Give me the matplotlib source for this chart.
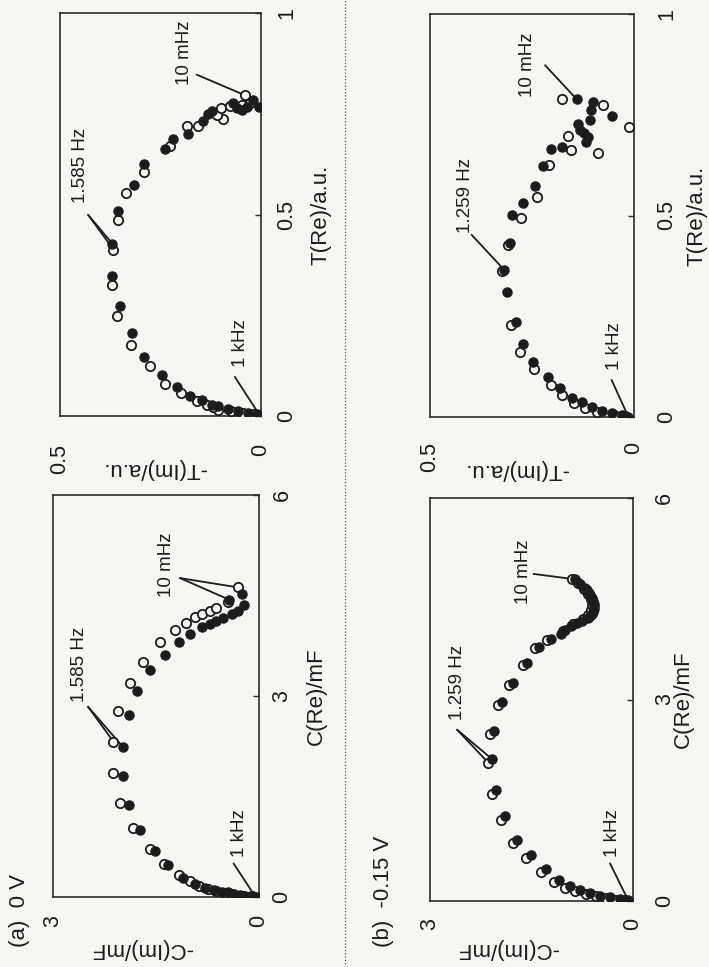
import matplotlib
matplotlib.use("Agg")
import matplotlib.pyplot as plt
from matplotlib.lines import Line2D

plt.rcParams["font.family"] = ["Liberation Sans", "DejaVu Sans"]

# ---------------------------------------------------------------- data
# (a) 0 V, capacitance plane: real part / -imaginary part (mF)
a_c_re_closed = [0.00, 0.01, 0.02, 0.03, 0.05, 0.07, 0.08, 0.10, 0.14, 0.19, 0.29, 0.48, 0.69,
                 1.00, 1.38, 1.81, 2.24, 2.71, 3.08, 3.39, 3.61, 3.80, 3.93, 4.03, 4.07, 4.12,
                 4.17, 4.22, 4.27, 4.36, 4.52, 4.44]
a_c_im_closed = [0.05, 0.12, 0.20, 0.28, 0.36, 0.45, 0.54, 0.66, 0.79, 0.93, 1.10, 1.32, 1.51,
                 1.74, 1.90, 1.98, 1.98, 1.90, 1.77, 1.59, 1.37, 1.17, 1.00, 0.83, 0.72, 0.62,
                 0.52, 0.40, 0.30, 0.22, 0.25, 0.44]
a_c_re_open = [0.01, 0.02, 0.04, 0.06, 0.09, 0.12, 0.17, 0.24, 0.33, 0.50, 0.72, 1.03, 1.40,
               1.85, 2.32, 2.78, 3.20, 3.51, 3.80, 3.99, 4.09, 4.18, 4.23, 4.27, 4.32, 4.41, 4.62]
a_c_im_open = [0.10, 0.24, 0.40, 0.50, 0.62, 0.75, 0.88, 1.00, 1.17, 1.38, 1.59, 1.83, 2.02,
               2.12, 2.12, 2.05, 1.88, 1.69, 1.44, 1.22, 1.06, 0.93, 0.83, 0.72, 0.62, 0.45, 0.30]

# (a) 0 V, normalised transfer function plane (a.u.)
a_t_re_closed = [0.003, 0.005, 0.007, 0.012, 0.017, 0.024, 0.028, 0.039, 0.050, 0.072, 0.102,
                 0.146, 0.206, 0.272, 0.347, 0.428, 0.508, 0.572, 0.625, 0.663, 0.688, 0.700,
                 0.733, 0.749, 0.758, 0.764, 0.760, 0.766, 0.785, 0.766, 0.777]
a_t_im_closed = [0.004, 0.011, 0.032, 0.056, 0.081, 0.106, 0.123, 0.148, 0.177, 0.210, 0.247,
                 0.290, 0.322, 0.351, 0.370, 0.370, 0.355, 0.315, 0.290, 0.239, 0.218, 0.182,
                 0.144, 0.131, 0.123, 0.060, 0.048, 0.036, 0.019, 0.005, 0.069]
a_t_re_open = [0.004, 0.008, 0.012, 0.016, 0.022, 0.028, 0.036, 0.057, 0.080, 0.125, 0.177,
               0.247, 0.326, 0.413, 0.486, 0.553, 0.605, 0.669, 0.719, 0.719, 0.738, 0.746,
               0.764, 0.768, 0.772, 0.777, 0.796]
a_t_im_open = [0.020, 0.045, 0.075, 0.106, 0.120, 0.135, 0.160, 0.199, 0.239, 0.276, 0.323,
               0.359, 0.370, 0.367, 0.355, 0.337, 0.290, 0.226, 0.185, 0.157, 0.094, 0.110,
               0.100, 0.077, 0.048, 0.027, 0.040]

# (b) -0.15 V, capacitance plane (mF)
b_c_re_closed = [0.01, 0.03, 0.06, 0.08, 0.12, 0.17, 0.22, 0.32, 0.47, 0.69, 0.91, 1.26, 1.66,
                 2.11, 2.53, 2.96, 3.24, 3.55, 3.78, 3.90, 3.97, 4.04, 4.09, 4.14, 4.17, 4.21,
                 4.24, 4.27, 4.31, 4.35, 4.39, 4.42, 4.47, 4.51, 4.55, 4.59, 4.63, 4.66, 4.72, 4.79]
b_c_im_closed = [0.07, 0.19, 0.34, 0.49, 0.63, 0.78, 0.93, 1.10, 1.29, 1.51, 1.71, 1.89, 2.03,
                 2.08, 2.05, 1.93, 1.77, 1.56, 1.39, 1.21, 1.07, 1.00, 0.91, 0.83, 0.75, 0.67,
                 0.64, 0.61, 0.59, 0.58, 0.57, 0.58, 0.59, 0.61, 0.63, 0.65, 0.68, 0.71, 0.78, 0.86]
b_c_re_open = [0.01, 0.02, 0.04, 0.07, 0.10, 0.15, 0.20, 0.29, 0.43, 0.64, 0.86, 1.20, 1.60,
               2.06, 2.48, 2.92, 3.21, 3.52, 3.76, 3.88, 4.02, 4.12, 4.20, 4.26, 4.33, 4.40,
               4.49, 4.57, 4.65, 4.73, 4.80]
b_c_im_open = [0.12, 0.25, 0.40, 0.55, 0.70, 0.85, 1.00, 1.17, 1.36, 1.58, 1.77, 1.95, 2.09,
               2.14, 2.11, 1.99, 1.83, 1.62, 1.45, 1.27, 1.04, 0.88, 0.74, 0.66, 0.62, 0.60,
               0.62, 0.67, 0.73, 0.81, 0.90]

# (b) -0.15 V, normalised transfer function plane (a.u.)
b_t_re_closed = [0.001, 0.005, 0.009, 0.015, 0.026, 0.038, 0.048, 0.073, 0.100, 0.137, 0.180,
                 0.235, 0.311, 0.365, 0.433, 0.501, 0.532, 0.573, 0.623, 0.664, 0.669, 0.683,
                 0.694, 0.704, 0.712, 0.727, 0.737, 0.747, 0.763, 0.782, 0.788]
b_t_im_closed = [0.014, 0.030, 0.055, 0.079, 0.104, 0.128, 0.153, 0.181, 0.210, 0.247, 0.271,
                 0.288, 0.312, 0.318, 0.304, 0.300, 0.271, 0.243, 0.222, 0.203, 0.177, 0.118,
                 0.112, 0.122, 0.132, 0.137, 0.108, 0.055, 0.105, 0.100, 0.140]
b_t_re_open = [0.002, 0.006, 0.013, 0.022, 0.034, 0.055, 0.079, 0.119, 0.162, 0.228, 0.362,
               0.428, 0.495, 0.545, 0.625, 0.656, 0.663, 0.697, 0.720, 0.774, 0.788]
b_t_im_open = [0.022, 0.050, 0.091, 0.120, 0.146, 0.177, 0.203, 0.244, 0.279, 0.301, 0.323,
               0.308, 0.277, 0.238, 0.208, 0.088, 0.154, 0.161, 0.012, 0.075, 0.176]

c_re_ticks = [0, 3, 6]
c_im_ticks = [3, 0]
t_re_ticks = [0, 0.5, 1]
t_im_ticks = [0.5, 0]

# ---------------------------------------------------------------- style
W, H = 709, 967
BG = "#f6f6f4"
INK = "#1c1c1c"
TICK_FS = 15.5
LABEL_FS = 16
NOTE_FS = 13.5
MS = 6.7

fig = plt.figure(figsize=(W / 100, H / 100), dpi=100, facecolor=BG)


def rect(x0, y0, x1, y1):
    return [x0 / W, 1 - y1 / H, (x1 - x0) / W, (y1 - y0) / H]


def fmt(v):
    return ("%g" % v)


def draw_panel(ax, re_c, im_c, re_o, im_o, re_ticks, im_ticks, re_label, im_label,
               notes, re_pad, im_pad, re_lab_x, im_lab_x, im_lab_y):
    ax.set_facecolor(BG)
    ax.set_xlim(max(im_ticks), 0)
    ax.set_ylim(0, max(re_ticks))
    for s in ax.spines.values():
        s.set_linewidth(1.2)
        s.set_color("#2a2a2a")

    # annotation leaders: from the label to the marked points
    for text, tx, ty, sx, sy, targets in notes:
        for (px, py) in targets:
            ax.plot([sx, px], [sy, py], color=INK, lw=1.3, zorder=2, solid_capstyle="round")
        ax.text(tx, ty, text, rotation=90, ha="center", va="bottom",
                fontsize=NOTE_FS, color=INK)

    ax.plot(im_o, re_o, "o", ls="none", ms=MS, mfc=BG, mec=INK, mew=1.3, zorder=3)
    ax.plot(im_c, re_c, "o", ls="none", ms=MS, mfc=INK, mec=INK, mew=0.8, zorder=4)

    ax.yaxis.tick_right()
    ax.set_yticks(re_ticks)
    ax.set_yticklabels([fmt(v) for v in re_ticks])
    ax.set_xticks(im_ticks)
    ax.set_xticklabels([fmt(v) for v in im_ticks])
    ax.tick_params(axis="y", direction="in", length=4, width=1, color="#2a2a2a",
                   labelrotation=90, pad=re_pad, labelsize=TICK_FS, labelcolor=INK)
    ax.tick_params(axis="x", length=0, labelrotation=90, pad=im_pad,
                   labelsize=TICK_FS, labelcolor=INK)
    for lbl in ax.get_yticklabels():
        lbl.set_va("center")

    ax.yaxis.set_label_position("right")
    ax.set_ylabel(re_label, rotation=90, fontsize=LABEL_FS, color=INK)
    ax.yaxis.label.set_ha("center")
    ax.yaxis.label.set_va("center")
    ax.yaxis.set_label_coords(re_lab_x, 0.5)

    ax.set_xlabel(im_label, rotation=180, fontsize=LABEL_FS, color=INK)
    ax.xaxis.label.set_ha("center")
    ax.xaxis.label.set_va("center")
    ax.xaxis.set_label_coords(im_lab_x, im_lab_y)


# (a) 0 V -------------------------------------------------------------
ax = fig.add_axes(rect(53, 495, 259, 897))
draw_panel(ax, a_c_re_closed, a_c_im_closed, a_c_re_open, a_c_im_open,
           c_re_ticks, c_im_ticks, "C(Re)/mF", "-C(Im)/mF",
           [("1 kHz", 0.28, 0.60, 0.37, 0.50, [(a_c_im_closed[0], a_c_re_closed[0])]),
            ("1.585 Hz", 2.61, 2.91, 2.49, 2.84,
             [(a_c_im_open[14], a_c_re_open[14]), (a_c_im_closed[16], a_c_re_closed[16])]),
            ("10 mHz", 1.34, 4.48, 1.15, 4.76,
             [(a_c_im_open[-1], a_c_re_open[-1]), (a_c_im_closed[-1], a_c_re_closed[-1])])],
           re_pad=9, im_pad=13, re_lab_x=1.28, im_lab_x=0.43, im_lab_y=-0.127)

ax = fig.add_axes(rect(60, 13, 261, 416))
draw_panel(ax, a_t_re_closed, a_t_im_closed, a_t_re_open, a_t_im_open,
           t_re_ticks, t_im_ticks, "T(Re)/a.u.", "-T(Im)/a.u.",
           [("1 kHz", 0.052, 0.122, 0.065, 0.097, [(a_t_im_closed[0], a_t_re_closed[0])]),
            ("1.585 Hz", 0.450, 0.529, 0.430, 0.499,
             [(a_t_im_open[13], a_t_re_open[13]), (a_t_im_closed[15], a_t_re_closed[15])]),
            ("10 mHz", 0.19, 0.821, 0.160, 0.847, [(a_t_im_open[-1], a_t_re_open[-1])])],
           re_pad=11, im_pad=20, re_lab_x=1.30, im_lab_x=0.47, im_lab_y=-0.13)

# (b) -0.15 V ---------------------------------------------------------
ax = fig.add_axes(rect(430, 498, 633, 901))
draw_panel(ax, b_c_re_closed, b_c_im_closed, b_c_re_open, b_c_im_open,
           c_re_ticks, c_im_ticks, "C(Re)/mF", "-C(Im)/mF",
           [("1 kHz", 0.30, 0.66, 0.34, 0.56, [(b_c_im_closed[0], b_c_re_closed[0])]),
            ("1.259 Hz", 2.60, 2.70, 2.60, 2.55,
             [(b_c_im_open[13], b_c_re_open[13]), (b_c_im_closed[13], b_c_re_closed[13])]),
            ("10 mHz", 1.62, 4.42, 1.47, 4.87, [(b_c_im_closed[-1], b_c_re_closed[-1])])],
           re_pad=15, im_pad=12, re_lab_x=1.25, im_lab_x=0.38, im_lab_y=-0.117)

ax = fig.add_axes(rect(430, 14, 634, 417))
draw_panel(ax, b_t_re_closed, b_t_im_closed, b_t_re_open, b_t_im_open,
           t_re_ticks, t_im_ticks, "T(Re)/a.u.", "-T(Im)/a.u.",
           [("1 kHz", 0.047, 0.117, 0.055, 0.092, [(b_t_im_closed[0], b_t_re_closed[0])]),
            ("1.259 Hz", 0.414, 0.457, 0.398, 0.452, [(b_t_im_closed[13], b_t_re_closed[13])]),
            ("10 mHz", 0.262, 0.794, 0.218, 0.873, [(b_t_im_closed[-1], b_t_re_closed[-1])])],
           re_pad=16, im_pad=18, re_lab_x=1.31, im_lab_x=0.42, im_lab_y=-0.13)

# panel captions and the dotted divider between the two bias conditions
fig.text(20 / W, 1 - 947 / H, "(a)  0 V", rotation=90, ha="center", va="bottom",
         fontsize=LABEL_FS, color=INK)
fig.text(383 / W, 1 - 947 / H, "(b)  -0.15 V", rotation=90, ha="center", va="bottom",
         fontsize=LABEL_FS, color=INK)
fig.add_artist(Line2D([345 / W, 345 / W], [0, 1], transform=fig.transFigure,
                      ls=(0, (1, 1.6)), lw=0.9, color="#555555"))

fig.savefig("out.png", dpi=100, facecolor=BG)
